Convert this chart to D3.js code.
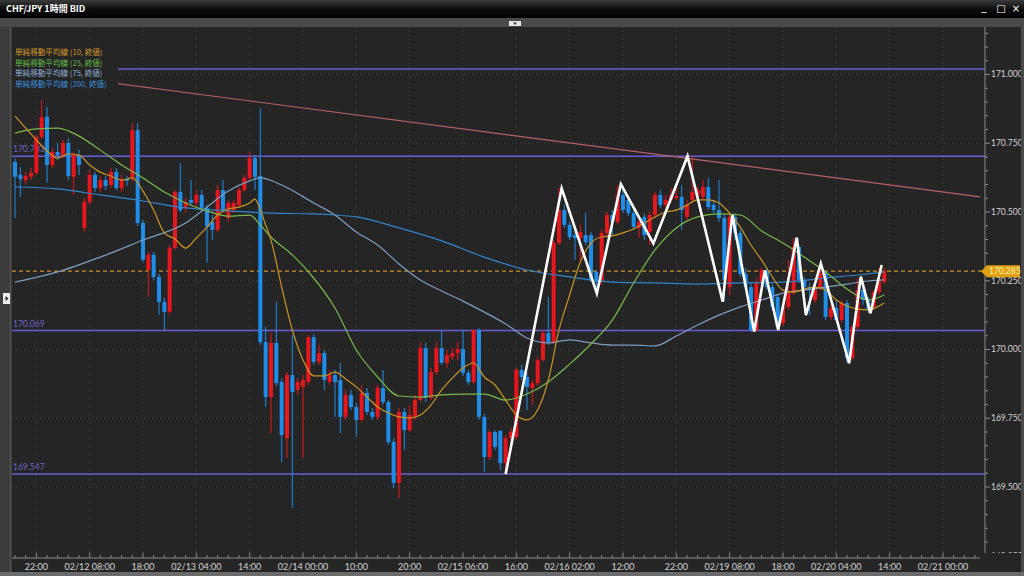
<!DOCTYPE html>
<html><head><meta charset="utf-8">
<script src="https://cdn.jsdelivr.net/npm/d3@7"></script>
<style>html,body{margin:0;padding:0;background:#252525;overflow:hidden}</style>
</head><body><svg id="c" width="1024" height="576"></svg>
<script>
// ---------------- DATA ----------------
const title = "CHF/JPY 1時間 BID";
const timeLabels = ["22:00","02/12 08:00","18:00","02/13 04:00","14:00","02/14 00:00","10:00","20:00","02/15 06:00","16:00","02/16 02:00","12:00","22:00","02/19 08:00","18:00","02/20 04:00","14:00","02/21 00:00"];
const timeLabelIdx = [4,14,24,34,44,54,64,74,84,94,104,114,124,134,144,154,164,174];
const priceTicks = [171.0,170.75,170.5,170.25,170.0,169.75,169.5,169.25];

const openP = [
170.682,170.635,170.616,170.628,170.642,170.773,170.846,170.671,170.718,170.707,
170.751,170.628,170.707,170.442,170.537,170.635,170.587,170.616,170.598,170.646,
170.587,170.620,170.624,170.798,170.460,170.289,170.344,170.264,170.173,170.137,
170.369,170.573,170.515,170.544,170.533,170.562,170.515,170.464,170.435,170.580,
170.478,170.507,170.526,170.580,170.624,170.696,170.631,170.027,169.827,170.024,
169.882,169.678,169.907,169.853,169.864,169.882,170.045,169.955,169.987,169.882,
169.907,169.889,169.755,169.835,169.791,169.744,169.842,169.773,169.755,169.860,
169.809,169.664,169.515,169.773,169.707,169.755,169.816,170.005,169.824,169.918,
170.005,169.951,169.973,169.987,170.002,169.915,169.882,170.071,169.755,169.609,
169.700,169.704,169.587,169.678,169.682,169.926,169.900,169.860,169.878,169.962,
170.060,170.027,170.387,170.507,170.453,170.416,170.405,170.416,170.416,170.282,
170.246,170.424,170.489,170.464,170.562,170.544,170.496,170.442,170.482,170.427,
170.489,170.562,170.526,170.544,170.551,170.555,170.482,170.544,170.562,170.555,
170.591,170.526,170.507,170.478,170.227,170.482,170.424,170.275,170.227,170.071,
170.246,170.289,170.227,170.191,170.096,170.155,170.206,170.373,170.253,170.227,
170.180,170.227,170.278,170.118,170.151,170.107,170.169,169.969,170.082,170.216,
170.180,170.155,170.209,170.246];
const highP = [
170.696,170.664,170.646,170.660,170.780,170.907,170.882,170.733,170.751,170.762,
170.769,170.718,170.726,170.551,170.653,170.646,170.631,170.631,170.660,170.660,
170.635,170.631,170.824,170.824,170.471,170.355,170.355,170.275,170.187,170.380,
170.580,170.678,170.551,170.616,170.580,170.580,170.526,170.489,170.598,170.616,
170.544,170.544,170.591,170.635,170.718,170.707,170.878,170.082,170.060,170.173,
169.896,169.918,170.053,169.896,169.907,170.053,170.056,170.016,169.998,169.926,
169.926,169.951,169.853,169.853,169.806,169.871,169.860,169.787,169.871,169.926,
169.816,169.678,169.787,169.787,169.798,169.835,170.027,170.024,169.933,170.027,
170.071,169.998,170.005,170.027,170.071,169.926,170.071,170.078,169.766,169.707,
169.707,169.707,169.689,169.715,169.933,169.944,169.915,169.889,169.973,170.071,
170.191,170.398,170.587,170.526,170.464,170.435,170.453,170.496,170.427,170.289,
170.435,170.500,170.507,170.598,170.598,170.551,170.507,170.478,170.493,170.500,
170.573,170.580,170.562,170.587,170.598,170.598,170.544,170.703,170.591,170.616,
170.624,170.544,170.616,170.489,170.496,170.496,170.435,170.297,170.242,170.260,
170.297,170.297,170.238,170.202,170.180,170.326,170.405,170.380,170.264,170.242,
170.242,170.315,170.289,170.162,170.180,170.180,170.180,170.089,170.260,170.227,
170.191,170.216,170.297,170.297];
const lowP = [
170.478,170.555,170.602,170.616,170.635,170.766,170.606,170.660,170.689,170.696,
170.616,170.562,170.635,170.427,170.526,170.573,170.573,170.580,170.587,170.580,
170.573,170.595,170.609,170.449,170.318,170.191,170.253,170.126,170.071,170.126,
170.362,170.500,170.500,170.526,170.518,170.500,170.315,170.398,170.427,170.500,
170.464,170.496,170.518,170.573,170.616,170.580,170.016,169.791,169.696,169.867,
169.591,169.605,169.424,169.835,169.605,169.871,169.944,169.944,169.853,169.871,
169.755,169.696,169.744,169.780,169.682,169.737,169.762,169.744,169.744,169.798,
169.653,169.496,169.460,169.635,169.700,169.744,169.809,169.809,169.816,169.907,
169.944,169.933,169.962,169.962,169.904,169.871,169.875,169.744,169.555,169.598,
169.635,169.562,169.547,169.653,169.671,169.889,169.780,169.798,169.867,169.955,
170.016,170.020,170.380,170.442,170.398,170.326,170.318,170.380,170.246,170.206,
170.235,170.413,170.413,170.456,170.496,170.485,170.435,170.405,170.398,170.380,
170.478,170.515,170.515,170.533,170.544,170.435,170.471,170.533,170.544,170.544,
170.507,170.496,170.464,170.173,170.198,170.398,170.264,170.216,170.064,170.064,
170.235,170.216,170.144,170.071,170.085,170.144,170.198,170.242,170.216,170.126,
170.169,170.216,170.107,170.107,170.100,170.096,169.951,169.962,170.071,170.162,
170.133,170.144,170.198,170.238];
const closeP = [
170.628,170.620,170.631,170.642,170.773,170.846,170.671,170.718,170.707,170.751,
170.631,170.707,170.671,170.537,170.635,170.587,170.616,170.595,170.646,170.587,
170.620,170.613,170.798,170.460,170.326,170.344,170.264,170.173,170.137,170.369,
170.573,170.507,170.537,170.533,170.562,170.515,170.446,170.435,170.580,170.507,
170.533,170.533,170.580,170.624,170.696,170.628,170.027,169.827,170.024,169.878,
169.689,169.907,169.845,169.882,169.889,170.045,169.955,169.987,169.889,169.907,
169.882,169.755,169.835,169.791,169.744,169.842,169.773,169.755,169.860,169.809,
169.664,169.515,169.773,169.707,169.762,169.816,170.005,169.824,169.918,170.005,
169.951,169.980,169.987,170.002,169.915,169.882,170.071,169.755,169.609,169.700,
169.646,169.587,169.678,169.700,169.926,169.900,169.864,169.878,169.962,170.060,
170.027,170.387,170.507,170.453,170.409,170.405,170.427,170.391,170.253,170.246,
170.424,170.489,170.464,170.562,170.507,170.496,170.446,170.464,170.416,170.489,
170.562,170.526,170.544,170.562,170.558,170.507,170.526,170.573,170.580,170.591,
170.518,170.507,170.478,170.253,170.482,170.424,170.275,170.227,170.071,170.246,
170.289,170.227,170.155,170.082,170.155,170.206,170.373,170.253,170.227,170.216,
170.227,170.278,170.118,170.151,170.107,170.169,169.969,170.082,170.216,170.180,
170.144,170.209,170.253,170.285];

const ma10Idx = [0,2,4,6,8,10,12,14,16,18,20,22,24,26,28,30,32,34,36,38,40,42,44,45,46,47,48,50,52,54,56,58,60,62,64,66,68,70,72,74,76,78,80,82,84,86,88,90,92,94,96,98,100,102,104,106,108,110,112,114,116,118,120,122,124,126,128,130,132,134,136,138,140,142,144,146,148,150,152,154,156,158,160,162,163];
const ma10 = [170.849,170.805,170.762,170.722,170.696,170.711,170.707,170.671,170.645,170.631,170.616,170.624,170.576,170.507,170.424,170.402,170.369,170.405,170.445,170.489,170.511,170.518,170.533,170.547,170.507,170.453,170.398,170.227,170.071,169.962,169.904,169.904,169.918,169.893,169.864,169.827,169.791,169.769,169.755,169.751,169.762,169.798,169.853,169.896,169.933,169.951,169.900,169.871,169.816,169.762,169.744,169.780,169.889,170.071,170.198,170.318,170.387,170.409,170.413,170.424,170.438,170.460,170.482,170.500,170.507,170.525,170.544,170.544,170.533,170.496,170.445,170.380,170.325,170.264,170.216,170.209,170.220,170.227,170.216,170.180,170.158,170.147,170.144,170.158,170.169];
const ma25Idx = [0,4,8,12,16,20,24,28,32,36,40,44,46,48,52,56,60,64,68,72,76,80,84,88,92,96,100,104,108,112,116,120,124,128,132,136,140,144,148,152,156,160,163];
const ma25 = [170.787,170.802,170.805,170.776,170.725,170.671,170.624,170.573,170.533,170.504,170.485,170.489,170.453,170.409,170.344,170.260,170.151,169.998,169.900,169.831,169.827,169.835,169.838,169.838,169.816,169.838,169.882,169.947,170.020,170.107,170.242,170.362,170.442,170.482,170.493,170.489,170.431,170.387,170.336,170.282,170.220,170.180,170.198];
const ma75Idx = [0,8,16,24,32,36,40,44,46,50,56,60,64,68,72,76,80,84,88,92,96,100,104,108,112,116,120,124,128,132,136,140,144,148,152,156,160,163];
const ma75 = [170.245,170.282,170.336,170.398,170.460,170.518,170.576,170.613,170.624,170.598,170.533,170.489,170.427,170.380,170.311,170.253,170.213,170.176,170.136,170.093,170.042,170.024,170.035,170.024,170.016,170.016,170.013,170.049,170.089,170.125,170.155,170.180,170.205,170.216,170.227,170.238,170.249,170.253];
const ma200Idx = [0,8,16,24,32,40,48,56,60,64,72,80,88,96,104,112,120,128,136,144,152,158,163];
const ma200 = [170.591,170.584,170.562,170.540,170.515,170.504,170.496,170.493,170.489,170.482,170.442,170.395,170.336,170.289,170.264,170.245,170.242,170.238,170.242,170.245,170.260,170.271,170.282];

const zigIdx = [92,102.5,109.1,113.6,119.7,126.1,132.7,134.5,138.6,140.6,143.1,146.6,148.3,151.1,156.4,158.6,160.4,162.5];
const zigP = [169.547,170.586,170.204,170.601,170.386,170.703,170.174,170.489,170.065,170.287,170.071,170.407,170.125,170.313,169.950,170.265,170.132,170.307];

const trendIdx = [0,181];
const trendP = [171.016,170.555];
const levels = [171.020,170.703,170.069,169.547];
const levelLabels = ["","170.703","170.069","169.547"];
const currentPrice = 170.285;

const legendItems = ["単純移動平均線 (10, 終値)","単純移動平均線 (25, 終値)","単純移動平均線 (75, 終値)","単純移動平均線 (200, 終値)"];
const legendColors = ["#d69a2c","#63bd45","#8fb0d8","#3d8fd8"];
const maColors = ["#c99420","#78b848","#7d9dc0","#2f86d0"];

// ---------------- LAYOUT ----------------
const BG = "#252525";
const L = 12, R = 985, T = 27, B = 553;
const svg = d3.select("#c");
const x = d3.scaleLinear().domain([0,181]).range([15,980.3]);
const y = d3.scaleLinear().domain([169.5,171]).range([487,74.5]);
const font = "'Noto Sans CJK JP','Lato',sans-serif";

svg.append("rect").attr("width",1024).attr("height",576).attr("fill",BG);

const defs = svg.append("defs");
const g1 = defs.append("linearGradient").attr("id","tb").attr("x1",0).attr("y1",0).attr("x2",0).attr("y2",1);
g1.append("stop").attr("offset","0%").attr("stop-color","#3a3a3a");
g1.append("stop").attr("offset","55%").attr("stop-color","#0a0a0a");
g1.append("stop").attr("offset","100%").attr("stop-color","#000");
defs.append("clipPath").attr("id","plot").append("rect").attr("x",L).attr("y",T).attr("width",R-L).attr("height",B-T);
defs.append("clipPath").attr("id","axisClip").append("rect").attr("x",R).attr("y",T).attr("width",1021-R).attr("height",B-T);

// title bar
svg.append("rect").attr("x",0).attr("y",0).attr("width",1024).attr("height",18).attr("fill","url(#tb)");
svg.append("text").attr("x",6).attr("y",12).attr("fill","#fff").attr("font-size",9).attr("font-weight","bold")
  .attr("font-family",font).text(title);
[["_",984,10],["□",1001,12],["×",1016,12]].forEach(d=>{
  svg.append("text").attr("x",d[1]).attr("y",d[2]).attr("fill","#fff").attr("font-size",10)
    .attr("text-anchor","middle").attr("font-family","DejaVu Sans").text(d[0]);
});
// gray strip
svg.append("rect").attr("x",0).attr("y",18).attr("width",1024).attr("height",9).attr("fill","#4a4a4a");
svg.append("rect").attr("x",509).attr("y",21).attr("width",12).attr("height",5).attr("fill","#e8e8e8");
svg.append("path").attr("d","M513,22.5 L517,22.5 L515,25 Z").attr("fill","#333");
// left strip
svg.append("rect").attr("x",0).attr("y",27).attr("width",10).attr("height",549).attr("fill","#3c3c3c");
svg.append("rect").attr("x",10).attr("y",27).attr("width",1.5).attr("height",549).attr("fill","#555");
svg.append("rect").attr("x",3).attr("y",293).attr("width",7).attr("height",11).attr("fill","#eee");
svg.append("path").attr("d","M5.5,296 L8.5,298.5 L5.5,301 Z").attr("fill","#222");
// right & bottom border
svg.append("rect").attr("x",1021).attr("y",18).attr("width",3).attr("height",558).attr("fill","#4a4a4a");
svg.append("rect").attr("x",0).attr("y",572).attr("width",1024).attr("height",4).attr("fill","#6a6a6a");

// grid
const grid = svg.append("g").attr("clip-path","url(#plot)");
timeLabelIdx.forEach(i=>{
  grid.append("line").attr("x1",x(i)).attr("x2",x(i)).attr("y1",T).attr("y2",B)
    .attr("stroke","#3a3a3a").attr("stroke-dasharray","1,3");
});
priceTicks.forEach(p=>{
  grid.append("line").attr("x1",L).attr("x2",R).attr("y1",y(p)).attr("y2",y(p))
    .attr("stroke","#3a3a3a").attr("stroke-dasharray","1,3");
});

const plot = svg.append("g").attr("clip-path","url(#plot)");
// horizontal levels
levels.forEach((p,k)=>{
  plot.append("line").attr("x1",L).attr("x2",R).attr("y1",y(p)).attr("y2",y(p))
    .attr("stroke","#6a5ed8").attr("stroke-width",1.5);
  if (levelLabels[k]) plot.append("text").attr("x",13).attr("y",y(p)-4).attr("fill","#6f66cc").attr("font-size",8.5)
    .attr("font-family","Lato, sans-serif").text(levelLabels[k]);
});
// current price dashed
plot.append("line").attr("x1",L).attr("x2",R).attr("y1",y(currentPrice)).attr("y2",y(currentPrice))
  .attr("stroke","#c8922a").attr("stroke-width",1.2).attr("stroke-dasharray","4,3");

// candles
const candles = d3.range(openP.length).map(i=>({i,o:openP[i],h:highP[i],l:lowP[i],c:closeP[i]}));
const cg = plot.append("g");
cg.selectAll("line.w").data(candles).join("line")
  .attr("x1",d=>x(d.i)).attr("x2",d=>x(d.i)).attr("y1",d=>y(d.h)).attr("y2",d=>y(d.l))
  .attr("stroke",d=>d.c>=d.o?"#e5161c":"#1f8ee8").attr("stroke-width",1);
cg.selectAll("rect.b").data(candles).join("rect")
  .attr("x",d=>x(d.i)-2).attr("width",4)
  .attr("y",d=>y(Math.max(d.o,d.c)))
  .attr("height",d=>Math.max(1.2,Math.abs(y(d.o)-y(d.c))))
  .attr("fill",d=>d.c>=d.o?"#e5161c":"#1f8ee8");

// moving averages
const line = d3.line().x(d=>x(d[0])).y(d=>y(d[1])).curve(d3.curveMonotoneX);
[[ma200Idx,ma200,maColors[3]],[ma75Idx,ma75,maColors[2]],[ma25Idx,ma25,maColors[1]],[ma10Idx,ma10,maColors[0]]].forEach(m=>{
  plot.append("path").attr("d",line(m[0].map((v,k)=>[v,m[1][k]]))).attr("fill","none")
    .attr("stroke",m[2]).attr("stroke-width",1.2);
});
// trend line
plot.append("path").attr("d",d3.line().x(d=>x(d[0])).y(d=>y(d[1]))(trendIdx.map((v,k)=>[v,trendP[k]])))
  .attr("stroke","#b8606a").attr("stroke-width",1.2).attr("fill","none");
// zigzag
plot.append("path").attr("d",d3.line().x(d=>x(d[0])).y(d=>y(d[1]))(zigIdx.map((v,k)=>[v,zigP[k]])))
  .attr("stroke","#ffffff").attr("stroke-width",2.6).attr("fill","none").attr("stroke-linejoin","miter");

// legend box
svg.append("rect").attr("x",L).attr("y",45).attr("width",106).attr("height",45).attr("fill",BG);
legendItems.forEach((t,k)=>{
  svg.append("text").attr("x",15).attr("y",55+k*10.5).attr("fill",legendColors[k]).attr("font-size",7.6)
    .attr("font-family",font).text(t);
});

// y axis
svg.append("line").attr("x1",R).attr("x2",R).attr("y1",T).attr("y2",B).attr("stroke","#8a8a8a");
const ax = svg.append("g").attr("clip-path","url(#axisClip)");
d3.range(0,39).map(k=>169.25+k*0.05).forEach(p=>{
  const major = priceTicks.some(t=>Math.abs(t-p)<1e-6);
  ax.append("line").attr("x1",R).attr("x2",R+(major?5:3)).attr("y1",y(p)).attr("y2",y(p)).attr("stroke","#8a8a8a");
});
priceTicks.forEach(p=>{
  ax.append("text").attr("x",991).attr("y",y(p)).attr("dy","0.35em").attr("fill","#d4d4d4")
    .attr("font-size",8.5).attr("font-family","Lato, sans-serif").text(p.toFixed(3));
});
// current price tag
const cy = y(currentPrice);
svg.append("path").attr("d",`M981,${cy} L987,${cy-6} L1020,${cy-6} L1020,${cy+6} L987,${cy+6} Z`).attr("fill","#e0a010");
svg.append("text").attr("x",989).attr("y",cy).attr("dy","0.35em").attr("fill","#fff0b0")
  .attr("font-size",8.5).attr("font-family","Lato, sans-serif").text(currentPrice.toFixed(3));

// x axis
svg.append("line").attr("x1",L).attr("x2",980).attr("y1",558).attr("y2",558).attr("stroke","#8a8a8a");
d3.range(0,182,2).forEach(i=>{
  const major = timeLabelIdx.includes(i);
  svg.append("line").attr("x1",x(i)).attr("x2",x(i)).attr("y1",major?552.5:555).attr("y2",558).attr("stroke","#8a8a8a");
});
timeLabels.forEach((t,k)=>{
  svg.append("text").attr("x",x(timeLabelIdx[k])).attr("y",567).attr("dy","0.35em").attr("text-anchor","middle")
    .attr("fill","#d4d4d4").attr("font-size",9).attr("font-family","Lato, sans-serif").text(t);
});
</script></body></html>
